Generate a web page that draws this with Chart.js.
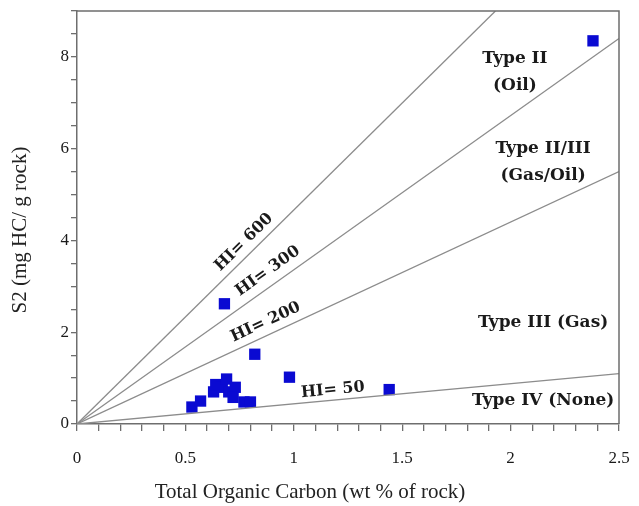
<!DOCTYPE html>
<html>
<head>
<meta charset="utf-8">
<script src="https://cdn.jsdelivr.net/npm/chart.js@4.4.0/dist/chart.umd.min.js"></script>
<style>
  html, body { margin: 0; padding: 0; background: #fff; }
  #wrap { width: 639px; height: 506px; position: relative; }
</style>
</head>
<body>
<div id="wrap"><canvas id="c"></canvas></div>
<script>
// ---- Data ----
const tocValues = [0.53, 0.57, 0.63, 0.64, 0.67, 0.69, 0.70, 0.73, 0.72, 0.77, 0.80, 0.68, 0.82, 0.98, 1.44, 2.38];
const s2Values  = [0.37, 0.50, 0.70, 0.86, 0.80, 0.98, 0.70, 0.80, 0.58, 0.48, 0.48, 2.62, 1.52, 1.02, 0.75, 8.35];
const hiNames   = ['HI= 600', 'HI= 300', 'HI= 200', 'HI= 50'];
const hiEndX    = [1.93, 2.5, 2.5, 2.5];
const hiEndY    = [9, 8.4, 5.5, 1.1];
const regionNames = [['Type II', '(Oil)'], ['Type II/III', '(Gas/Oil)'], ['Type III (Gas)'], ['Type IV (None)']];
const xTickLabels = ['0', '0.5', '1', '1.5', '2', '2.5'];
const yTickLabels = ['0', '2', '4', '6', '8'];
const xTitle = 'Total Organic Carbon (wt % of rock)';
const yTitle = 'S2 (mg HC/ g rock)';

// ---- Annotation placement (data coordinates) ----
const hiLabelPos = [{x: 0.77, y: 3.96}, {x: 0.88, y: 3.33}, {x: 0.87, y: 2.22}, {x: 1.18, y: 0.74}];
const regionPos  = [{x: 2.02, y: 7.97}, {x: 2.15, y: 6.0}, {x: 2.15, y: 2.22}, {x: 2.15, y: 0.52}];

const datasets = hiNames.map((n, i) => ({
  type: 'line',
  label: n,
  data: [{x: 0, y: 0}, {x: hiEndX[i], y: hiEndY[i]}],
  borderColor: '#8c8c8c',
  borderWidth: 1.3,
  pointRadius: 0,
  fill: false
}));
datasets.push({
  type: 'scatter',
  label: 'Samples',
  data: tocValues.map((v, i) => ({x: v, y: s2Values[i]})),
  pointStyle: 'rect',
  pointRadius: 8,
  backgroundColor: '#0a0ad2',
  borderColor: '#0a0ad2',
  borderWidth: 0
});

const annot = {
  id: 'annot',
  afterDraw(chart) {
    const ctx = chart.ctx, xs = chart.scales.x, ys = chart.scales.y, a = chart.chartArea;
    ctx.save();
    // frame top/right
    ctx.strokeStyle = '#6e6e6e';
    ctx.lineWidth = 1.5;
    ctx.beginPath();
    ctx.moveTo(a.left, a.top); ctx.lineTo(a.right, a.top); ctx.lineTo(a.right, a.bottom);
    ctx.stroke();
    ctx.fillStyle = '#1a1a1a';
    ctx.textAlign = 'center';
    ctx.textBaseline = 'middle';
    // HI labels
    ctx.font = 'bold 16px "DejaVu Serif"';
    hiNames.forEach((n, i) => {
      const dx = xs.getPixelForValue(hiEndX[i]) - xs.getPixelForValue(0);
      const dy = ys.getPixelForValue(hiEndY[i]) - ys.getPixelForValue(0);
      const ang = Math.atan2(dy, dx);
      ctx.save();
      ctx.translate(xs.getPixelForValue(hiLabelPos[i].x), ys.getPixelForValue(hiLabelPos[i].y));
      ctx.rotate(ang);
      ctx.fillText(n, 0, 0);
      ctx.restore();
    });
    // region labels
    ctx.font = 'bold 17px "DejaVu Serif"';
    regionNames.forEach((lines, i) => {
      const px = xs.getPixelForValue(regionPos[i].x), py = ys.getPixelForValue(regionPos[i].y);
      lines.forEach((t, j) => ctx.fillText(t, px, py + j * 27));
    });
    // axis titles
    ctx.fillStyle = '#222';
    ctx.font = '21px "Liberation Serif"';
    ctx.fillText(xTitle, 310, 492);
    ctx.save();
    ctx.translate(20, 230);
    ctx.rotate(-Math.PI / 2);
    ctx.fillText(yTitle, 0, 0);
    ctx.restore();
    ctx.restore();
  }
};

new Chart(document.getElementById('c'), {
  data: { datasets },
  options: {
    responsive: true,
    maintainAspectRatio: false,
    animation: false,
    layout: { padding: { top: 11, right: 20, left: 0, bottom: 0 } },
    plugins: { legend: { display: false }, tooltip: { enabled: false } },
    scales: {
      x: {
        type: 'linear', min: 0, max: 2.5,
        afterFit(s) { s.height = 82; s.paddingLeft = 0; s.paddingRight = 0; },
        border: { color: '#6e6e6e', width: 1.5 },
        grid: { drawOnChartArea: false, drawTicks: true, tickLength: 7, color: '#6e6e6e', lineWidth: 1.3 },
        ticks: {
          stepSize: 0.1, autoSkip: false, maxRotation: 0, padding: 17,
          color: '#1a1a1a', font: { family: 'Liberation Serif', size: 17 },
          callback(v) {
            const k = Math.round(v * 2);
            return Math.abs(v * 2 - k) < 1e-6 ? xTickLabels[k] : '';
          }
        }
      },
      y: {
        type: 'linear', min: 0, max: 9,
        afterFit(s) { s.width = 77; s.paddingTop = 0; s.paddingBottom = 0; },
        border: { color: '#6e6e6e', width: 1.5 },
        grid: { drawOnChartArea: false, drawTicks: true, tickLength: 6, color: '#6e6e6e', lineWidth: 1.3 },
        ticks: {
          stepSize: 0.5, autoSkip: false, padding: 2,
          color: '#1a1a1a', font: { family: 'Liberation Serif', size: 17 },
          callback(v) {
            const k = Math.round(v / 2);
            return Math.abs(v / 2 - k) < 1e-6 ? yTickLabels[k] : '';
          }
        }
      }
    }
  },
  plugins: [annot]
});
</script>
</body>
</html>
